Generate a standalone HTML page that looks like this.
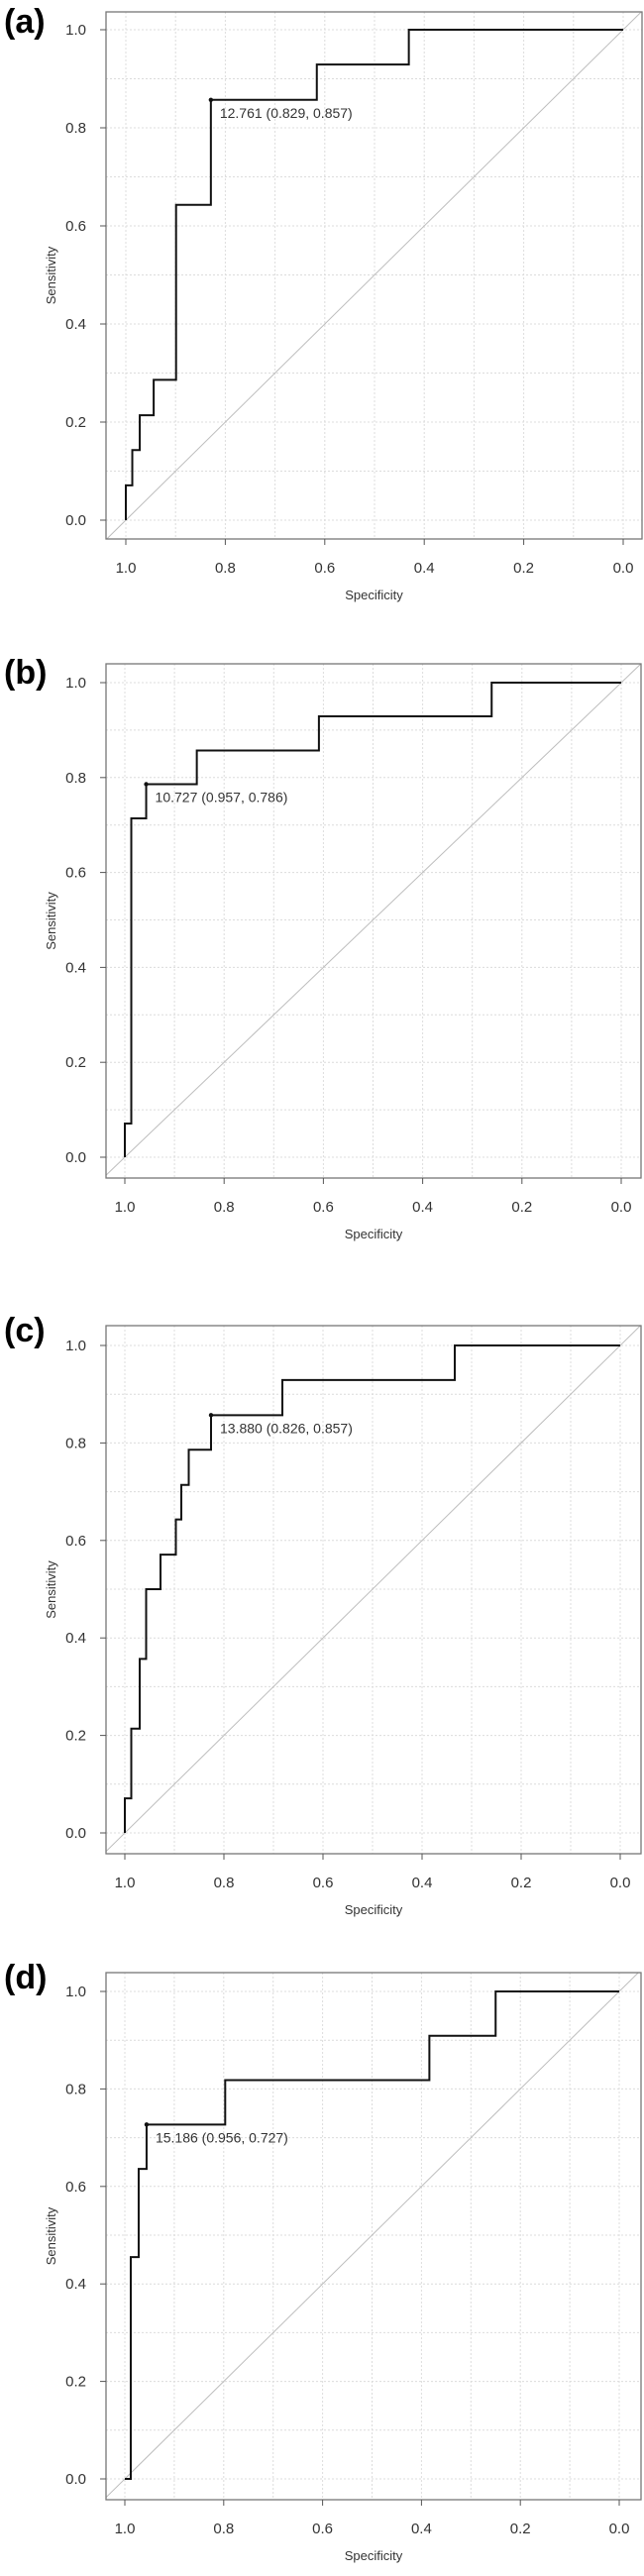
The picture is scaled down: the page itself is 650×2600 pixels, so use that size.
<!DOCTYPE html>
<html><head><meta charset="utf-8">
<style>
html,body{margin:0;padding:0;background:#fff;}
svg{display:block;font-family:"Liberation Sans",Arial,sans-serif;}
</style></head>
<body>
<svg id="fig" width="650" height="2600" viewBox="0 0 650 2600" xmlns="http://www.w3.org/2000/svg"></svg>
<script>
// Panel data: specificity at each vertical step, sensitivity reached after step
const specA = [1.0, 0.987, 0.972, 0.944, 0.899, 0.829, 0.616, 0.431];
const sensA = [0.071, 0.143, 0.214, 0.286, 0.643, 0.857, 0.929, 1.0];
const specB = [1.0, 0.987, 0.957, 0.855, 0.609, 0.261];
const sensB = [0.071, 0.714, 0.786, 0.857, 0.929, 1.0];
const specC = [1.0, 0.987, 0.970, 0.957, 0.928, 0.897, 0.886, 0.871, 0.826, 0.682, 0.334];
const sensC = [0.071, 0.214, 0.357, 0.5, 0.571, 0.643, 0.714, 0.786, 0.857, 0.929, 1.0];
const specD = [0.988, 0.972, 0.956, 0.797, 0.384, 0.25];
const sensD = [0.455, 0.636, 0.727, 0.818, 0.909, 1.0];
const bestA = [0.829, 0.857]; const labelA = "12.761 (0.829, 0.857)";
const bestB = [0.957, 0.786]; const labelB = "10.727 (0.957, 0.786)";
const bestC = [0.826, 0.857]; const labelC = "13.880 (0.826, 0.857)";
const bestD = [0.956, 0.727]; const labelD = "15.186 (0.956, 0.727)";
const tickVals = [0, 0.2, 0.4, 0.6, 0.8, 1.0];
const tickLabels = ["0.0", "0.2", "0.4", "0.6", "0.8", "1.0"];
const panelLetters = ["(a)", "(b)", "(c)", "(d)"];

const panels = [
  {spec: specA, sens: sensA, best: bestA, label: labelA, box:[107,12,648,544], x1:127, x0:629, y1:30, y0:525, letterY:33},
  {spec: specB, sens: sensB, best: bestB, label: labelB, box:[107,670,647,1189], x1:126, x0:627, y1:689, y0:1168, letterY:690},
  {spec: specC, sens: sensC, best: bestC, label: labelC, box:[107,1338,647,1871], x1:126, x0:626, y1:1358, y0:1850, letterY:1354},
  {spec: specD, sens: sensD, best: bestD, label: labelD, box:[107,1991,647,2523], x1:126, x0:625, y1:2010, y0:2502, letterY:2007}
];
const NS = "http://www.w3.org/2000/svg";
const svg = document.getElementById('fig');
function mk(tag, attrs, parent){
  const e = document.createElementNS(NS, tag);
  for (const k in attrs) e.setAttribute(k, attrs[k]);
  (parent||svg).appendChild(e);
  return e;
}
panels.forEach((p, i) => {
  const g = mk('g', {});
  
  
  const X = v => p.x0 + (p.x1 - p.x0) * v;
  const Y = v => p.y0 + (p.y1 - p.y0) * v;
  const [bl, bt, br, bb] = p.box;
  const cid = 'clip' + i;
  const cp = mk('clipPath', {id: cid}, g);
  mk('rect', {x: bl, y: bt, width: br - bl, height: bb - bt}, cp);
  // grid
  for (let k = 0; k <= 10; k++) {
    const v = k / 10;
    const gx = mk('line', {x1: X(v), x2: X(v), y1: bt, y2: bb, stroke: '#dcdcdc', 'stroke-width': 1, 'stroke-dasharray': '2,2'}, g);
    
    
    const gy = mk('line', {x1: bl, x2: br, y1: Y(v), y2: Y(v), stroke: '#dcdcdc', 'stroke-width': 1, 'stroke-dasharray': '2,2'}, g);
    
    
  }
  // diagonal
  const diag = mk('line', {x1: X(1.05), y1: Y(-0.05), x2: X(-0.05), y2: Y(1.05), stroke: '#bdbdbd', 'stroke-width': 1, 'clip-path': 'url(#' + cid + ')'}, g);
  
  
  // box
  const box = mk('rect', {x: bl, y: bt, width: br - bl, height: bb - bt, fill: 'none', stroke: '#777', 'stroke-width': 1.3}, g);
  
  
  // ticks
  tickVals.forEach((v, j) => {
    mk('line', {x1: X(v), x2: X(v), y1: bb, y2: bb + 6, stroke: '#555', 'stroke-width': 1}, g);
    const tx = mk('text', {x: X(v), y: bb + 34, 'text-anchor': 'middle', 'font-size': 15, fill: '#333'}, g);
    tx.textContent = tickLabels[j];
    
    
    mk('line', {x1: bl - 6, x2: bl, y1: Y(v), y2: Y(v), stroke: '#555', 'stroke-width': 1}, g);
    const ty = mk('text', {x: bl - 20, y: Y(v) + 5, 'text-anchor': 'end', 'font-size': 15, fill: '#333'}, g);
    ty.textContent = tickLabels[j];
    
    
  });
  const xt = mk('text', {x: (bl + br) / 2, y: bb + 61, 'text-anchor': 'middle', 'font-size': 13, fill: '#333'}, g);
  xt.textContent = 'Specificity';
  
  
  const ymid = (bt + bb) / 2;
  const yt = mk('text', {x: 56, y: ymid, 'text-anchor': 'middle', 'font-size': 13, fill: '#333', transform: 'rotate(-90 56 ' + ymid + ')'}, g);
  yt.textContent = 'Sensitivity';
  
  
  // curve
  let d = 'M' + X(1) + ',' + Y(0);
  let cur = 0;
  p.spec.forEach((s, j) => {
    d += ' L' + X(s) + ',' + Y(cur);
    cur = p.sens[j];
    d += ' L' + X(s) + ',' + Y(cur);
  });
  d += ' L' + X(0) + ',' + Y(cur);
  const curve = mk('path', {d: d, fill: 'none', stroke: '#111', 'stroke-width': 2}, g);
  
  
  const pt = mk('circle', {cx: X(p.best[0]), cy: Y(p.best[1]), r: 2.2, fill: '#111'}, g);
  
  
  const lab = mk('text', {x: X(p.best[0]) + 9, y: Y(p.best[1]) + 18, 'font-size': 14, fill: '#333'}, g);
  lab.textContent = p.label;
  
  
  const let_ = mk('text', {x: 4, y: p.letterY, 'font-size': 34, 'font-weight': 'bold', fill: '#000'}, g);
  let_.textContent = panelLetters[i];
  
  
});
</script>
</body></html>
